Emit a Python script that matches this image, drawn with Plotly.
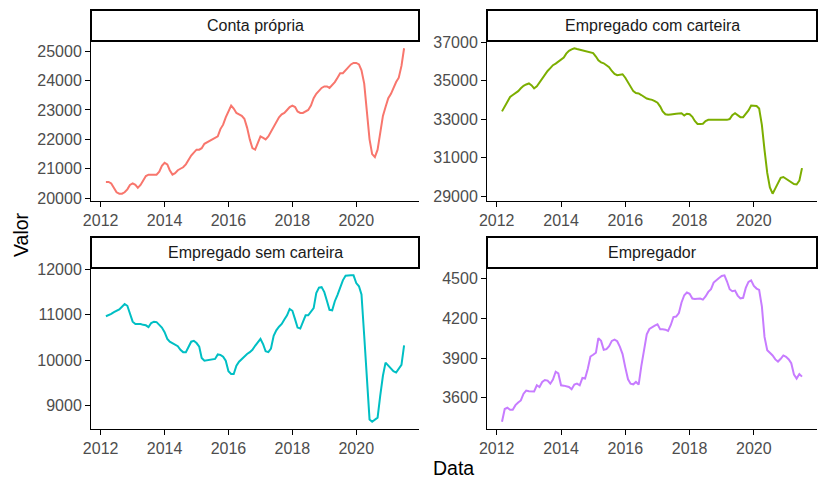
import pandas as pd
import plotly.graph_objects as go

# The page body adds an 8px margin, so the figure is drawn 8px smaller and
# all reference pixel positions are shifted by OFF.
OFF = 8
W, H = 827 - OFF, 490 - OFF

# Monthly dates: Mar 2012 .. Jul 2021 (113 points)
dates = pd.date_range("2012-03-01", periods=113, freq="MS")

categories = ["Conta própria", "Empregado com carteira", "Empregado sem carteira", "Empregador"]

conta_propria = [
    20550, 20550, 20500, 20350, 20200, 20150, 20150, 20200, 20300, 20450,
    20500, 20450, 20350, 20450, 20600, 20750, 20800, 20800, 20800, 20800,
    20900, 21100, 21200, 21150, 20950, 20800, 20850, 20950, 21000, 21050,
    21150, 21300, 21450, 21550, 21650, 21650, 21700, 21850, 21900, 21950,
    22000, 22050, 22100, 22350, 22500, 22750, 22950, 23150, 23050, 22900,
    22850, 22800, 22700, 22400, 22000, 21700, 21650, 21900, 22100, 22050,
    22000, 22100, 22250, 22400, 22550, 22750, 22850, 22900, 23000, 23100,
    23150, 23100, 22950, 22900, 22900, 22950, 23000, 23150, 23400, 23550,
    23650, 23750, 23800, 23800, 23750, 23850, 23950, 24100, 24250, 24250,
    24350, 24450, 24550, 24600, 24600, 24550, 24350, 23900, 22900, 22000,
    21500, 21400, 21650, 22200, 22800, 23100, 23400, 23550, 23750, 23950,
    24100, 24500, 25100,
]

empregado_com_carteira = [
    33400, 33650, 33950, 34150, 34250, 34350, 34450, 34600, 34730, 34800,
    34850, 34750, 34600, 34700, 34900, 35100, 35300, 35500, 35650, 35800,
    35880, 36000, 36100, 36200, 36400, 36550, 36620, 36680, 36640, 36600,
    36570, 36540, 36500, 36470, 36430, 36250, 36050, 35950, 35900, 35800,
    35700, 35500, 35350, 35280, 35300, 35330, 35150, 34920, 34680, 34450,
    34350, 34330, 34250, 34150, 34070, 34030, 34000, 33930, 33850, 33650,
    33400, 33250, 33220, 33240, 33270, 33280, 33290, 33300, 33190, 33280,
    33250, 33120, 32900, 32750, 32750, 32760, 32900, 32960, 32960, 32960,
    32960, 32960, 32960, 32960, 32960, 33000, 33200, 33300, 33200, 33100,
    33100, 33250, 33450, 33700, 33700, 33680, 33550, 32700, 31400, 30200,
    29450, 29120, 29400, 29700, 29950, 29990, 29900, 29800, 29710, 29620,
    29600, 29800, 30450,
]

empregado_sem_carteira = [
    10970, 10990, 11020, 11060, 11090, 11120, 11180, 11240, 11200, 11000,
    10850, 10800, 10800, 10800, 10780, 10770, 10730, 10820, 10850, 10840,
    10780, 10720, 10620, 10470, 10410, 10380, 10350, 10310, 10230, 10180,
    10180, 10300, 10410, 10430, 10380, 10300, 10050, 9990, 10000, 10010,
    10020, 10030, 10130, 10120, 10080, 9990, 9760, 9700, 9700, 9880,
    9970, 10030, 10090, 10140, 10180, 10230, 10320, 10400, 10470, 10350,
    10200, 10180, 10260, 10540, 10660, 10740, 10800, 10900, 10990, 11130,
    11090, 10900, 10720, 10700, 10850, 10990, 10990, 11060, 11150, 11480,
    11600, 11610, 11500, 11300, 11110, 11100, 11300, 11440, 11580, 11760,
    11860, 11870, 11870, 11870, 11700, 11630, 11450, 10540, 9660, 8700,
    8650, 8700, 8740, 9220, 9660, 9950, 9880, 9800, 9760, 9730,
    9810, 9900, 10330,
]

empregador = [
    3420, 3516, 3525, 3510, 3510, 3545, 3565, 3580, 3631, 3655,
    3650, 3648, 3648, 3695, 3682, 3720, 3735, 3730, 3707, 3738,
    3797, 3784, 3695, 3692, 3688, 3682, 3665, 3700, 3707, 3695,
    3750, 3746, 3820, 3912, 3925, 3940, 4050, 4030, 3963, 3968,
    3990, 4030, 4040, 4027, 3985, 3930, 3830, 3740, 3707, 3702,
    3720, 3700, 3840, 3963, 4080, 4120, 4135, 4145, 4155, 4117,
    4117, 4115, 4105, 4150, 4210, 4214, 4240, 4320, 4375, 4395,
    4385, 4350, 4347, 4350, 4350, 4342, 4365, 4400, 4420, 4470,
    4490, 4505, 4520, 4525, 4480, 4420, 4405, 4410, 4372, 4350,
    4355, 4430, 4475, 4487, 4445, 4425, 4415, 4290, 4060, 3960,
    3940, 3920, 3890, 3874, 3895, 3920, 3910, 3890, 3861, 3775,
    3745, 3780, 3760,
]

series = [conta_propria, empregado_com_carteira, empregado_sem_carteira, empregador]
colors = ["#F8766D", "#7CAE00", "#00BFC4", "#C77CFF"]

y_ticks = [
    [20000, 21000, 22000, 23000, 24000, 25000],
    [29000, 31000, 33000, 35000, 37000],
    [9000, 10000, 11000, 12000],
    [3600, 3900, 4200, 4500],
]
x_tick_labels = ["2012", "2014", "2016", "2018", "2020"]
x_tick_vals = [pd.Timestamp(f"{y}-01-01") for y in x_tick_labels]

# reference pixel boxes (x0, x1, y_top, y_bottom, strip_top) of plot areas
boxes = [
    (91, 419, 41, 201, 10),
    (487, 817, 41, 201, 10),
    (91, 419, 268, 429, 237),
    (487, 817, 268, 429, 237),
]

FONT = "Liberation Sans, Arial, sans-serif"


def px(x):
    return (x - OFF) / W


def py(y):
    return 1 - (y - OFF) / H


span = dates[-1] - dates[0]
x_range = [dates[0] - 0.05 * span, dates[-1] + 0.05 * span]

fig = go.Figure()
layout = dict(
    template="none",
    width=W, height=H,
    margin=dict(l=0, r=0, t=0, b=0, pad=0, autoexpand=False),
    paper_bgcolor="white", plot_bgcolor="white",
    showlegend=False,
    font=dict(family=FONT),
)
shapes = []
annotations = []

for i, (name, vals, col, box) in enumerate(zip(categories, series, colors, boxes)):
    k = "" if i == 0 else str(i + 1)
    x0, x1, yt, yb, st = box
    fig.add_trace(go.Scatter(
        x=dates, y=vals, mode="lines",
        line=dict(color=col, width=2),
        xaxis="x" + k, yaxis="y" + k, hoverinfo="skip",
    ))
    ymin, ymax = min(vals), max(vals)
    r = ymax - ymin
    layout["xaxis" + k] = dict(
        domain=[px(x0), px(x1)], anchor="y" + k, automargin=False,
        range=x_range, showgrid=False, zeroline=False,
        showline=True, linecolor="black", linewidth=1,
        ticks="outside", ticklen=5, tickcolor="black", tickwidth=1,
        tickvals=x_tick_vals, ticktext=x_tick_labels,
        tickfont=dict(size=16, color="#4D4D4D", family=FONT),
    )
    layout["yaxis" + k] = dict(
        domain=[py(yb), py(yt)], anchor="x" + k, automargin=False,
        range=[ymin - 0.05 * r, ymax + 0.05 * r],
        showgrid=False, zeroline=False,
        showline=True, linecolor="black", linewidth=1,
        ticks="outside", ticklen=5, tickcolor="black", tickwidth=1,
        tickvals=y_ticks[i], ticktext=[str(v) for v in y_ticks[i]],
        tickfont=dict(size=16, color="#4D4D4D", family=FONT),
    )
    # facet strip
    shapes.append(dict(
        type="rect", xref="paper", yref="paper",
        x0=px(x0), x1=px(x1), y0=py(yt), y1=py(st),
        line=dict(color="black", width=2), fillcolor="white", layer="above",
    ))
    annotations.append(dict(
        text=name, xref="paper", yref="paper",
        x=px((x0 + x1) / 2), y=py((st + yt) / 2),
        xanchor="center", yanchor="middle", showarrow=False,
        font=dict(size=16, color="#1A1A1A", family=FONT),
    ))

annotations.append(dict(
    text="Valor", xref="paper", yref="paper", x=px(21), y=py(235),
    textangle=-90, xanchor="center", yanchor="middle", showarrow=False,
    font=dict(size=19.5, color="black", family=FONT),
))
annotations.append(dict(
    text="Data", xref="paper", yref="paper", x=px(454), y=py(468),
    xanchor="center", yanchor="middle", showarrow=False,
    font=dict(size=19.5, color="black", family=FONT),
))

layout["shapes"] = shapes
layout["annotations"] = annotations
fig.update_layout(**layout)
fig.write_html("out.html")
